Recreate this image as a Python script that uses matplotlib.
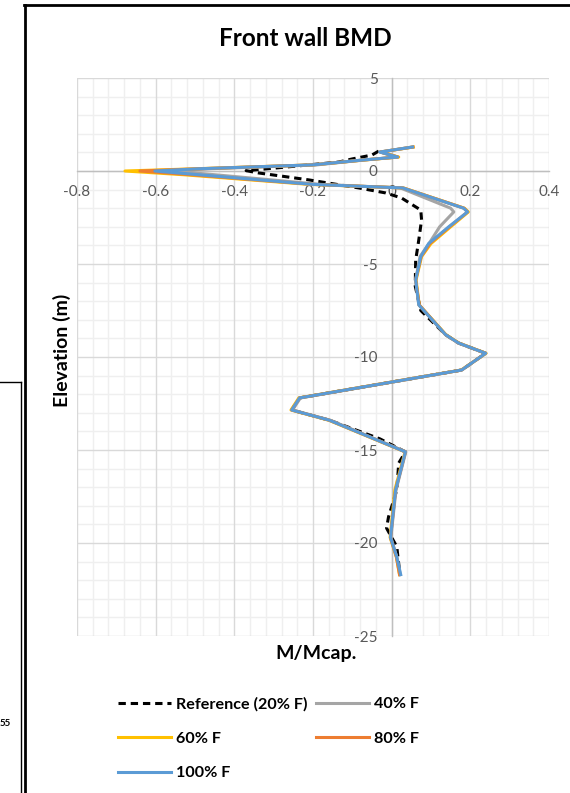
import matplotlib
matplotlib.use('Agg')

import matplotlib.pyplot as plt
from matplotlib.lines import Line2D
from matplotlib.ticker import MultipleLocator

plt.rcParams['font.family'] = ['Lato', 'DejaVu Sans']

# ── data: elevation (m) vs normalised moment M/Mcap ─────────────────────────
elev = [1.29, 1.02, 0.75, 0.59, 0.33, 0.12, 0.0, -0.2, -0.72, -0.91, -2.0, -2.2,
        -3.0, -3.9, -4.6, -5.86, -7.2, -8.8, -9.25, -9.8, -10.7, -12.2, -12.85,
        -13.4, -15.1, -17.15, -19.7, -20.75, -21.7]

m_40 = [0.053, -0.030, 0.015, -0.072, -0.19, -0.46, -0.56, -0.45, -0.18, 0.022, 0.150, 0.158,
        0.122, 0.095, 0.072, 0.061, 0.069, 0.137, 0.170, 0.239, 0.178, -0.232, -0.252,
        -0.156, 0.036, 0.011, -0.002, 0.013, 0.022]
m_60 = [0.055, -0.028, 0.018, -0.070, -0.20, -0.50, -0.678, -0.53, -0.21, 0.030, 0.185, 0.195,
        0.150, 0.100, 0.076, 0.062, 0.070, 0.138, 0.171, 0.240, 0.177, -0.236, -0.256,
        -0.160, 0.034, 0.008, -0.004, 0.012, 0.020]
m_80 = [0.054, -0.029, 0.016, -0.073, -0.20, -0.49, -0.640, -0.51, -0.20, 0.029, 0.184, 0.193,
        0.147, 0.097, 0.075, 0.061, 0.070, 0.137, 0.170, 0.239, 0.178, -0.234, -0.254,
        -0.158, 0.035, 0.010, -0.003, 0.012, 0.020]
m_100 = [0.053, -0.030, 0.015, -0.074, -0.20, -0.49, -0.602, -0.49, -0.20, 0.028, 0.183, 0.193,
         0.145, 0.094, 0.074, 0.061, 0.069, 0.137, 0.170, 0.239, 0.178, -0.234, -0.254,
         -0.158, 0.035, 0.010, -0.003, 0.013, 0.023]

elev_ref = [1.07, 0.86, 0.65, 0.48, 0.15, 0.02, -0.10, -0.48, -0.91, -1.18, -1.45, -2.1,
            -2.63, -3.7, -4.8, -6.2, -7.5, -8.8, -9.25, -9.8, -10.7, -12.2, -12.85,
            -13.4, -14.4, -15.1, -15.7, -17.15, -18.6, -19.2, -20.2, -21.5]
m_ref = [-0.033, -0.050, -0.100, -0.135, -0.30, -0.370, -0.340, -0.210, -0.084, -0.015, 0.025, 0.074,
         0.076, 0.069, 0.061, 0.060, 0.074, 0.137, 0.170, 0.239, 0.178, -0.234, -0.254,
         -0.158, -0.030, 0.035, 0.018, 0.013, -0.008, -0.013, 0.013, 0.020]

W, H = 570, 793


def fx(px):
    return px / W


def fy(py):
    return 1 - py / H


fig = plt.figure(figsize=(W / 100, H / 100), dpi=100)
ax = fig.add_axes([fx(77), fy(636), (549 - 77) / W, (636 - 78) / H])

lw = 2.2
h_ref, = ax.plot(m_ref, elev_ref, color='black', lw=lw, linestyle=(0, (2.4, 1.6)),
                 label='Reference (20% F)')
h40, = ax.plot(m_40, elev, color='#A5A5A5', lw=lw, label='40% F')
h60, = ax.plot(m_60, elev, color='#FFC000', lw=lw, label='60% F')
h80, = ax.plot(m_80, elev, color='#ED7D31', lw=lw, label='80% F')
h100, = ax.plot(m_100, elev, color='#5B9BD5', lw=lw, label='100% F')

ax.set_xlim(-0.8, 0.4)
ax.set_ylim(-25, 5)
ax.xaxis.set_major_locator(MultipleLocator(0.2))
ax.xaxis.set_minor_locator(MultipleLocator(0.04))
ax.yaxis.set_major_locator(MultipleLocator(5))
ax.yaxis.set_minor_locator(MultipleLocator(1))

# gridlines drawn by hand so the tick labels sit on top of them
for v in ax.xaxis.get_minorticklocs():
    ax.axvline(v, color='#efefef', lw=1.0, zorder=0.1)
for v in ax.yaxis.get_minorticklocs():
    ax.axhline(v, color='#efefef', lw=1.0, zorder=0.1)
for v in ax.xaxis.get_majorticklocs():
    ax.axvline(v, color='#d9d9d9', lw=1.0, zorder=0.2)
for v in ax.yaxis.get_majorticklocs():
    ax.axhline(v, color='#d9d9d9', lw=1.0, zorder=0.2)
ax.set_xlim(-0.8, 0.4)
ax.set_ylim(-25, 5)

for s in ('top', 'right'):
    ax.spines[s].set_visible(False)
ax.spines['left'].set_position(('data', 0))
ax.spines['bottom'].set_position(('data', 0))
for s in ('left', 'bottom'):
    ax.spines[s].set_color('#bfbfbf')
    ax.spines[s].set_linewidth(1.0)
    ax.spines[s].set_zorder(0.3)

ax.tick_params(which='both', length=0, labelsize=11, labelcolor='#595959')
ax.tick_params(axis='x', pad=10)
ax.tick_params(axis='y', pad=10)
ax.set_xticks([-0.8, -0.6, -0.4, -0.2, 0, 0.2, 0.4])
ax.set_xticklabels(['-0.8', '-0.6', '-0.4', '-0.2', '0', '0.2', '0.4'])
ax.set_yticks([5, 0, -5, -10, -15, -20, -25])
ax.set_yticklabels(['5', '0', '-5', '-10', '-15', '-20', '-25'])

# titles and axis names
fig.text(fx(305), fy(38), 'Front wall BMD', ha='center', va='center',
         fontsize=17.5, fontweight='bold', color='black')
fig.text(fx(62), fy(350), 'Elevation (m)', ha='center', va='center', rotation=90,
         fontsize=14, fontweight='bold', color='black')
fig.text(fx(316), fy(653), 'M/Mcap.', ha='center', va='center',
         fontsize=14, fontweight='bold', color='black')

# legend, row-wise order as in the spreadsheet
fig.legend(handles=[h_ref, h60, h100, h40, h80], ncol=2, loc='upper left',
           bbox_to_anchor=(fx(118), fy(697)), frameon=False, borderpad=0,
           borderaxespad=0, handlelength=3.3, handletextpad=0.3,
           columnspacing=0.5, labelspacing=1.25,
           prop=dict(weight='bold', size=11.6))

# frame remnants from the sheet around the chart
fig.add_artist(Line2D([fx(25), fx(25)], [fy(5), fy(793)], color='black', lw=2.0))
fig.add_artist(Line2D([fx(24), fx(570)], [fy(5), fy(5)], color='black', lw=2.0))
fig.add_artist(Line2D([fx(0), fx(21)], [fy(382), fy(382)], color='black', lw=1.0))
fig.add_artist(Line2D([fx(21), fx(21)], [fy(382), fy(793)], color='black', lw=1.0))
fig.text(fx(0), fy(723), '55', ha='left', va='center', fontsize=7, fontweight='bold')

fig.savefig('out.png', dpi=100, facecolor='white')
